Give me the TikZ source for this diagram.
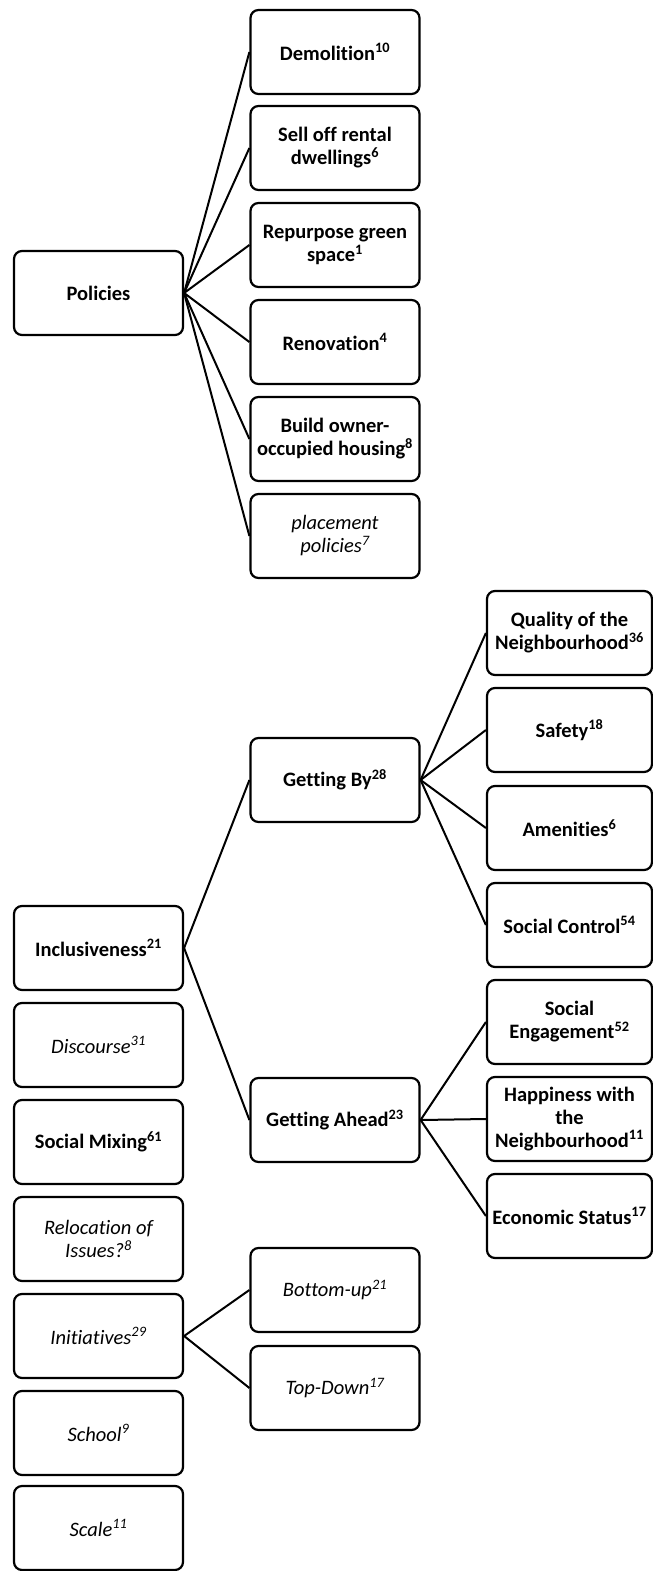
\documentclass[tikz,border=0pt]{standalone}
\usepackage{fontspec}
\setmainfont{Carlito}[Ligatures={NoCommon}]

\tikzset{
  box/.style={draw, line width=2.2pt, rounded corners=8pt, minimum width=169pt,
    minimum height=84pt, align=center, inner sep=2pt,
    font=\fontsize{20.5}{23}\selectfont\bfseries},
  ibox/.style={box, font=\fontsize{20.5}{23}\selectfont\itshape},
  rbox/.style={box, minimum width=165pt},
  link/.style={line width=2pt}
}

\begin{document}
\begin{tikzpicture}[x=1pt, y=-1pt]
  \useasboundingbox (0,0) rectangle (653,1571);

  % policies
  \node[box] (policies) at (98.5,293) {Policies};
  \node[box] (demol) at (335,52) {Demolition\textsuperscript{10}};
  \node[box] (selloff) at (335,148) {Sell off rental\\dwellings\textsuperscript{6}};
  \node[box] (green) at (335,245) {Repurpose green\\space\textsuperscript{1}};
  \node[box] (renov) at (335,342) {Renovation\textsuperscript{4}};
  \node[box] (owner) at (335,439) {Build owner-\\occupied housing\textsuperscript{8}};
  \node[ibox] (placement) at (335,536) {placement\\policies\textsuperscript{7}};
  \foreach \n in {demol,selloff,green,renov,owner,placement}
    \draw[link] (policies.east) -- (\n.west);

  % left column
  \node[box] (incl) at (98.5,948) {Inclusiveness\textsuperscript{21}};
  \node[ibox] (discourse) at (98.5,1045) {Discourse\textsuperscript{31}};
  \node[box] (mixing) at (98.5,1142) {Social Mixing\textsuperscript{61}};
  \node[ibox] (reloc) at (98.5,1239) {Relocation of\\Issues?\textsuperscript{8}};
  \node[ibox] (init) at (98.5,1336) {Initiatives\textsuperscript{29}};
  \node[ibox] (school) at (98.5,1433) {School\textsuperscript{9}};
  \node[ibox] (scale) at (98.5,1528) {Scale\textsuperscript{11}};

  % getting by / ahead
  \node[box] (getby) at (335,780) {Getting By\textsuperscript{28}};
  \node[box] (getahead) at (335,1120) {Getting Ahead\textsuperscript{23}};
  \draw[link] (incl.east) -- (getby.west);
  \draw[link] (incl.east) -- (getahead.west);

  \node[rbox] (quality) at (569.5,633) {Quality of the\\Neighbourhood\textsuperscript{36}};
  \node[rbox] (safety) at (569.5,730) {Safety\textsuperscript{18}};
  \node[rbox] (amenities) at (569.5,828) {Amenities\textsuperscript{6}};
  \node[rbox] (control) at (569.5,925) {Social Control\textsuperscript{54}};
  \node[rbox] (engage) at (569.5,1022) {Social\\Engagement\textsuperscript{52}};
  \node[rbox] (happy) at (569.5,1119) {Happiness with\\the\\Neighbourhood\textsuperscript{11}};
  \node[rbox] (econ) at (569.5,1216) {Economic Status\textsuperscript{17}};
  \foreach \n in {quality,safety,amenities,control}
    \draw[link] (getby.east) -- (\n.west);
  \foreach \n in {engage,happy,econ}
    \draw[link] (getahead.east) -- (\n.west);

  % initiatives
  \node[ibox] (bottomup) at (335,1290) {Bottom-up\textsuperscript{21}};
  \node[ibox] (topdown) at (335,1388) {Top-Down\textsuperscript{17}};
  \draw[link] (init.east) -- (bottomup.west);
  \draw[link] (init.east) -- (topdown.west);
\end{tikzpicture}
\end{document}
